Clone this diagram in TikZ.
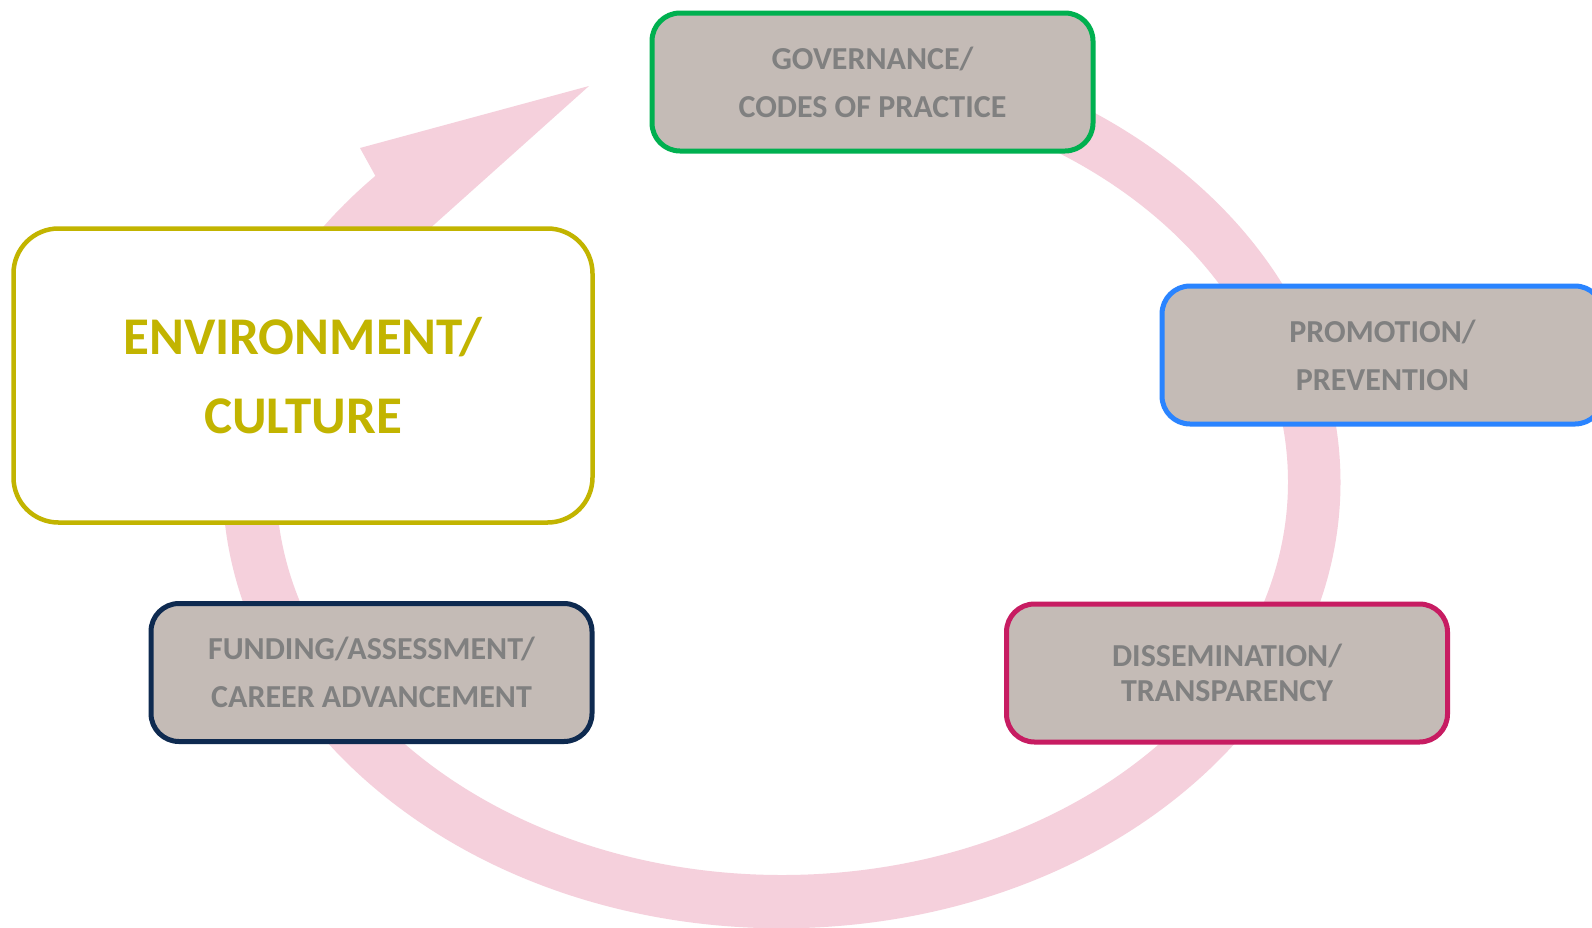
\documentclass[tikz,border=0pt]{standalone}
\usepackage{fontspec}
\setmainfont{Carlito}
\definecolor{ringpink}{HTML}{F5D0DC}
\definecolor{boxfill}{HTML}{C4BBB6}
\definecolor{textgray}{HTML}{808080}
\definecolor{olive}{HTML}{C2B400}
\definecolor{govgreen}{HTML}{00B050}
\definecolor{promblue}{HTML}{2A84FF}
\definecolor{fundnavy}{HTML}{0E2A50}
\definecolor{dissred}{HTML}{C71C62}
\begin{document}
\begin{tikzpicture}[x=1pt,y=-1pt,
  topicbox/.style={draw, line width=5pt, rounded corners=28pt, fill=boxfill,
    minimum width=441pt, minimum height=138pt, inner sep=0pt, align=center,
    text=textgray, font=\bfseries\fontsize{32}{48}\selectfont},
  envbox/.style={draw=olive, line width=4.5pt, rounded corners=45pt, fill=white,
    minimum width=579pt, minimum height=294pt, inner sep=0pt, align=center,
    text=olive, font=\bfseries\fontsize{53}{79}\selectfont}]
\useasboundingbox (0,0) rectangle (1592,927);
\clip (0,0) rectangle (1592,927);
\fill[white] (0,0) rectangle (1592,927);
% cycle arrow (ring + head), one filled shape
\fill[ringpink] (589,86) -- (360,148) -- (375.4,175.9)
  arc[start angle=223.4, end angle=-90, x radius=559, y radius=446]
  -- (782,89)
  arc[start angle=-90, end angle=220.6, x radius=506, y radius=393]
  -- (408,248) -- cycle;
% boxes
\node[topicbox, draw=govgreen] (gov) at (872.5,82) {GOVERNANCE/\\CODES OF PRACTICE};
\node[topicbox, draw=promblue] (prom) at (1382.5,355) {PROMOTION/\\PREVENTION};
\node[topicbox, draw=dissred, font=\bfseries\fontsize{32}{35}\selectfont] (diss) at (1227,673) {DISSEMINATION/\\TRANSPARENCY};
\node[topicbox, draw=fundnavy] (fund) at (371.5,672.5) {FUNDING/ASSESSMENT/\\CAREER ADVANCEMENT};
\node[envbox] (env) at (303,375.5) {ENVIRONMENT/\\CULTURE};
\end{tikzpicture}
\end{document}
